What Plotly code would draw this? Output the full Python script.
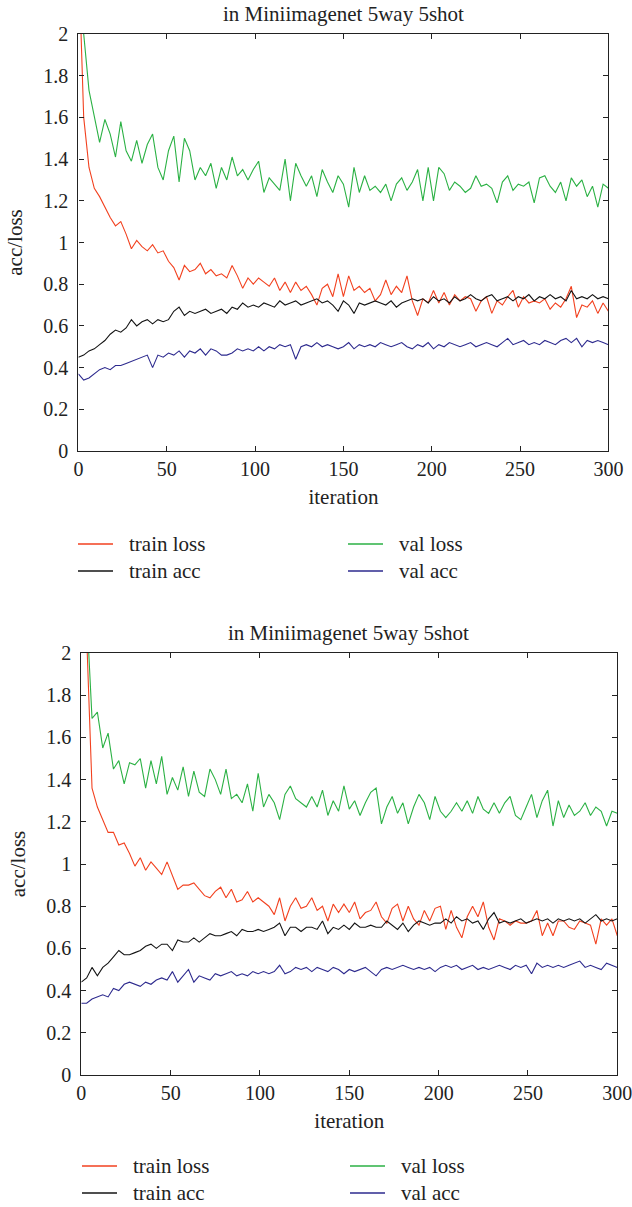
import plotly.graph_objects as go

# iterations sampled every 3 steps
iters = list(range(0, 301, 3))

# ---- top chart ----
top_train_loss = [
    2.40, 1.60, 1.36, 1.26, 1.22, 1.17, 1.12, 1.08, 1.10, 1.04,
    0.97, 1.01, 0.98, 0.96, 0.99, 0.95, 0.96, 0.91, 0.88, 0.82,
    0.89, 0.86, 0.87, 0.90, 0.85, 0.87, 0.84, 0.85, 0.83, 0.89,
    0.84, 0.78, 0.83, 0.80, 0.83, 0.81, 0.79, 0.83, 0.77, 0.81,
    0.76, 0.81, 0.77, 0.79, 0.75, 0.70, 0.78, 0.80, 0.74, 0.85,
    0.74, 0.84, 0.77, 0.79, 0.76, 0.78, 0.72, 0.75, 0.82, 0.75,
    0.79, 0.76, 0.84, 0.72, 0.65, 0.73, 0.71, 0.77, 0.71, 0.76,
    0.70, 0.75, 0.72, 0.74, 0.73, 0.67, 0.72, 0.74, 0.66, 0.72,
    0.70, 0.74, 0.77, 0.69, 0.74, 0.71, 0.72, 0.71, 0.73, 0.68,
    0.71, 0.69, 0.73, 0.79, 0.64, 0.70, 0.69, 0.72, 0.66, 0.71,
    0.67]
top_train_acc = [
    0.45, 0.46, 0.48, 0.49, 0.51, 0.53, 0.56, 0.58, 0.57, 0.59,
    0.63, 0.60, 0.62, 0.63, 0.61, 0.63, 0.62, 0.63, 0.67, 0.69,
    0.65, 0.67, 0.66, 0.67, 0.68, 0.66, 0.67, 0.68, 0.66, 0.69,
    0.68, 0.71, 0.69, 0.70, 0.69, 0.71, 0.70, 0.69, 0.72, 0.70,
    0.71, 0.72, 0.70, 0.71, 0.72, 0.73, 0.71, 0.72, 0.70, 0.67,
    0.72, 0.70, 0.66, 0.71, 0.70, 0.71, 0.72, 0.71, 0.70, 0.72,
    0.69, 0.71, 0.72, 0.73, 0.72, 0.73, 0.71, 0.74, 0.72, 0.73,
    0.71, 0.74, 0.72, 0.73, 0.75, 0.73, 0.72, 0.74, 0.75, 0.72,
    0.73, 0.74, 0.72, 0.74, 0.73, 0.75, 0.72, 0.74, 0.73, 0.75,
    0.73, 0.74, 0.72, 0.77, 0.73, 0.74, 0.73, 0.75, 0.73, 0.74,
    0.73]
top_val_acc = [
    0.37, 0.34, 0.35, 0.37, 0.39, 0.40, 0.39, 0.41, 0.41, 0.42,
    0.43, 0.44, 0.45, 0.46, 0.40, 0.46, 0.45, 0.47, 0.46, 0.48,
    0.45, 0.48, 0.47, 0.49, 0.46, 0.49, 0.48, 0.46, 0.46, 0.47,
    0.49, 0.48, 0.49, 0.48, 0.50, 0.48, 0.50, 0.49, 0.51, 0.50,
    0.51, 0.44, 0.50, 0.51, 0.50, 0.52, 0.50, 0.51, 0.50, 0.49,
    0.50, 0.52, 0.49, 0.51, 0.50, 0.51, 0.50, 0.52, 0.51, 0.50,
    0.51, 0.52, 0.50, 0.49, 0.51, 0.50, 0.52, 0.49, 0.51, 0.50,
    0.52, 0.51, 0.50, 0.51, 0.52, 0.50, 0.51, 0.52, 0.51, 0.50,
    0.52, 0.54, 0.51, 0.52, 0.53, 0.51, 0.52, 0.51, 0.53, 0.52,
    0.51, 0.53, 0.54, 0.52, 0.54, 0.50, 0.53, 0.52, 0.53, 0.52,
    0.51]
top_val_loss = [
    2.60, 2.00, 1.73, 1.60, 1.48, 1.59, 1.52, 1.41, 1.58, 1.44,
    1.39, 1.49, 1.38, 1.47, 1.52, 1.36, 1.30, 1.44, 1.51, 1.29,
    1.50, 1.44, 1.30, 1.36, 1.32, 1.38, 1.26, 1.36, 1.30, 1.41,
    1.32, 1.35, 1.30, 1.35, 1.39, 1.24, 1.31, 1.28, 1.25, 1.40,
    1.20, 1.38, 1.32, 1.27, 1.32, 1.22, 1.35, 1.29, 1.24, 1.32,
    1.28, 1.17, 1.36, 1.24, 1.32, 1.25, 1.27, 1.24, 1.28, 1.20,
    1.28, 1.31, 1.25, 1.29, 1.35, 1.20, 1.36, 1.20, 1.36, 1.33,
    1.25, 1.29, 1.27, 1.24, 1.26, 1.32, 1.27, 1.28, 1.26, 1.19,
    1.29, 1.32, 1.25, 1.28, 1.27, 1.29, 1.19, 1.31, 1.32, 1.27,
    1.24, 1.29, 1.20, 1.31, 1.27, 1.30, 1.22, 1.27, 1.17, 1.28,
    1.26]

# ---- bottom chart ----
bot_train_loss = [
    2.80, 2.10, 1.36, 1.27, 1.21, 1.15, 1.15, 1.09, 1.10, 1.05,
    0.99, 1.03, 0.97, 1.01, 0.98, 0.95, 1.01, 0.94, 0.88, 0.90,
    0.90, 0.91, 0.88, 0.85, 0.84, 0.87, 0.89, 0.84, 0.88, 0.82,
    0.83, 0.87, 0.82, 0.84, 0.82, 0.80, 0.76, 0.84, 0.73, 0.80,
    0.84, 0.79, 0.80, 0.84, 0.78, 0.80, 0.73, 0.81, 0.77, 0.81,
    0.77, 0.82, 0.74, 0.77, 0.78, 0.82, 0.75, 0.72, 0.79, 0.81,
    0.73, 0.80, 0.74, 0.71, 0.78, 0.73, 0.79, 0.80, 0.69, 0.78,
    0.70, 0.65, 0.75, 0.80, 0.75, 0.82, 0.70, 0.64, 0.74, 0.73,
    0.71, 0.73, 0.72, 0.72, 0.73, 0.78, 0.66, 0.72, 0.66, 0.73,
    0.73, 0.70, 0.69, 0.73, 0.72, 0.71, 0.62, 0.74, 0.71, 0.74,
    0.66]
bot_train_acc = [
    0.44, 0.46, 0.51, 0.47, 0.51, 0.53, 0.56, 0.59, 0.57, 0.57,
    0.58, 0.59, 0.61, 0.62, 0.60, 0.62, 0.62, 0.59, 0.64, 0.63,
    0.63, 0.65, 0.63, 0.65, 0.67, 0.66, 0.66, 0.67, 0.68, 0.66,
    0.69, 0.68, 0.68, 0.69, 0.68, 0.69, 0.70, 0.72, 0.66, 0.70,
    0.70, 0.68, 0.70, 0.70, 0.69, 0.73, 0.67, 0.70, 0.69, 0.71,
    0.69, 0.72, 0.70, 0.70, 0.71, 0.70, 0.70, 0.73, 0.71, 0.69,
    0.72, 0.68, 0.71, 0.73, 0.72, 0.71, 0.72, 0.72, 0.74, 0.72,
    0.75, 0.73, 0.74, 0.72, 0.73, 0.69, 0.74, 0.77, 0.72, 0.73,
    0.72, 0.73, 0.74, 0.72, 0.73, 0.74, 0.73, 0.74, 0.72, 0.74,
    0.73, 0.74, 0.73, 0.74, 0.72, 0.74, 0.76, 0.73, 0.74, 0.73,
    0.74]
bot_val_acc = [
    0.34, 0.34, 0.36, 0.37, 0.38, 0.37, 0.41, 0.40, 0.43, 0.44,
    0.43, 0.42, 0.44, 0.43, 0.45, 0.46, 0.45, 0.49, 0.44, 0.47,
    0.50, 0.44, 0.47, 0.46, 0.45, 0.48, 0.47, 0.48, 0.49, 0.47,
    0.48, 0.47, 0.49, 0.48, 0.49, 0.48, 0.49, 0.52, 0.48, 0.49,
    0.51, 0.50, 0.51, 0.49, 0.51, 0.50, 0.49, 0.51, 0.50, 0.48,
    0.50, 0.49, 0.50, 0.51, 0.49, 0.47, 0.50, 0.51, 0.50, 0.51,
    0.52, 0.51, 0.50, 0.51, 0.50, 0.51, 0.49, 0.51, 0.52, 0.51,
    0.52, 0.50, 0.51, 0.52, 0.50, 0.51, 0.50, 0.51, 0.52, 0.51,
    0.50, 0.52, 0.51, 0.52, 0.48, 0.53, 0.51, 0.52, 0.51, 0.52,
    0.51, 0.52, 0.53, 0.54, 0.51, 0.52, 0.51, 0.50, 0.53, 0.52,
    0.51]
bot_val_loss = [
    2.80, 2.20, 1.69, 1.72, 1.55, 1.62, 1.45, 1.49, 1.38, 1.48,
    1.47, 1.50, 1.36, 1.49, 1.38, 1.51, 1.33, 1.41, 1.35, 1.46,
    1.32, 1.44, 1.34, 1.32, 1.45, 1.40, 1.33, 1.45, 1.31, 1.33,
    1.29, 1.38, 1.25, 1.43, 1.27, 1.33, 1.29, 1.21, 1.33, 1.37,
    1.31, 1.29, 1.27, 1.32, 1.27, 1.35, 1.23, 1.30, 1.25, 1.37,
    1.26, 1.30, 1.23, 1.29, 1.34, 1.36, 1.19, 1.27, 1.32, 1.24,
    1.29, 1.19, 1.27, 1.33, 1.29, 1.21, 1.32, 1.25, 1.22, 1.25,
    1.29, 1.25, 1.30, 1.24, 1.32, 1.26, 1.24, 1.29, 1.24, 1.29,
    1.32, 1.23, 1.21, 1.27, 1.33, 1.22, 1.30, 1.35, 1.18, 1.30,
    1.22, 1.28, 1.23, 1.25, 1.29, 1.23, 1.27, 1.25, 1.18, 1.25,
    1.24]

names = ["train loss", "val loss", "train acc", "val acc"]
colors = ["#f2411f", "#2bb144", "#141414", "#2d2a8e"]
title = "in Miniimagenet 5way 5shot"

FONT = "Liberation Serif"
INK = "#222"
W, H = 632, 1207


def px(x):
    return x / W


def py(y):
    return 1 - y / H


fig = go.Figure()

top_series = [top_train_loss, top_val_loss, top_train_acc, top_val_acc]
bot_series = [bot_train_loss, bot_val_loss, bot_train_acc, bot_val_acc]

for i in range(4):
    fig.add_trace(go.Scatter(x=iters, y=top_series[i], mode="lines", name=names[i],
                             line=dict(color=colors[i], width=1.1),
                             xaxis="x", yaxis="y", showlegend=False))
for i in range(4):
    fig.add_trace(go.Scatter(x=iters, y=bot_series[i], mode="lines", name=names[i],
                             line=dict(color=colors[i], width=1.1),
                             xaxis="x2", yaxis="y2", showlegend=False))

axis_common = dict(showline=True, linecolor=INK, linewidth=1.2, mirror="ticks",
                   ticks="inside", ticklen=5, tickcolor=INK, showgrid=False,
                   zeroline=False, automargin=False, ticklabeloverflow="allow",
                   tickfont=dict(family=FONT, size=20, color=INK))

xa = dict(axis_common, range=[0, 300], dtick=50,
          title=dict(text="iteration", font=dict(family=FONT, size=21, color=INK), standoff=10))
ya = dict(axis_common, range=[0, 2], dtick=0.2, ticklabelstandoff=5,
          title=dict(text="acc/loss", font=dict(family=FONT, size=21, color=INK), standoff=14))

# legend drawn as short line samples + labels, 2 columns x 2 rows under each chart
shapes = []
annotations = []
legend_spots = [
    # (line x0, first row y, column step, row step)
    (78, 544, 270, 27),
    (82, 1166, 268, 27),
]
for x0, y0, colstep, rowstep in legend_spots:
    for k in range(4):
        col, row = k % 2, k // 2
        lx = x0 + col * colstep
        ly = y0 + row * rowstep
        shapes.append(dict(type="line", xref="paper", yref="paper",
                           x0=px(lx), x1=px(lx + 35), y0=py(ly), y1=py(ly),
                           line=dict(color=colors[k], width=1.3)))
        annotations.append(dict(text=names[k], x=px(lx + 49), y=py(ly), xref="paper", yref="paper",
                                xanchor="left", yanchor="middle", showarrow=False,
                                font=dict(family=FONT, size=21, color=INK)))

annotations.append(dict(text=title, x=px(343), y=py(14), xref="paper", yref="paper",
                        xanchor="center", yanchor="middle", showarrow=False,
                        font=dict(family=FONT, size=21, color=INK)))
annotations.append(dict(text=title, x=px(349), y=py(633), xref="paper", yref="paper",
                        xanchor="center", yanchor="middle", showarrow=False,
                        font=dict(family=FONT, size=21, color=INK)))

fig.update_layout(
    width=W, height=H,
    margin=dict(l=0, r=0, t=0, b=0),
    paper_bgcolor="white", plot_bgcolor="white",
    font=dict(family=FONT, size=20, color=INK),
    showlegend=False,
    xaxis=dict(xa, domain=[px(78.4), px(608.4)], anchor="y"),
    yaxis=dict(ya, domain=[py(451), py(34)], anchor="x"),
    xaxis2=dict(xa, domain=[px(81.3), px(617.3)], anchor="y2"),
    yaxis2=dict(ya, domain=[py(1075), py(653)], anchor="x2"),
    shapes=shapes,
    annotations=annotations,
)

# drop the default page margin so the figure sits at the window's top-left corner
fig.write_html("out.html", config={"displayModeBar": False},
               post_script="document.body.style.margin = '0';")
